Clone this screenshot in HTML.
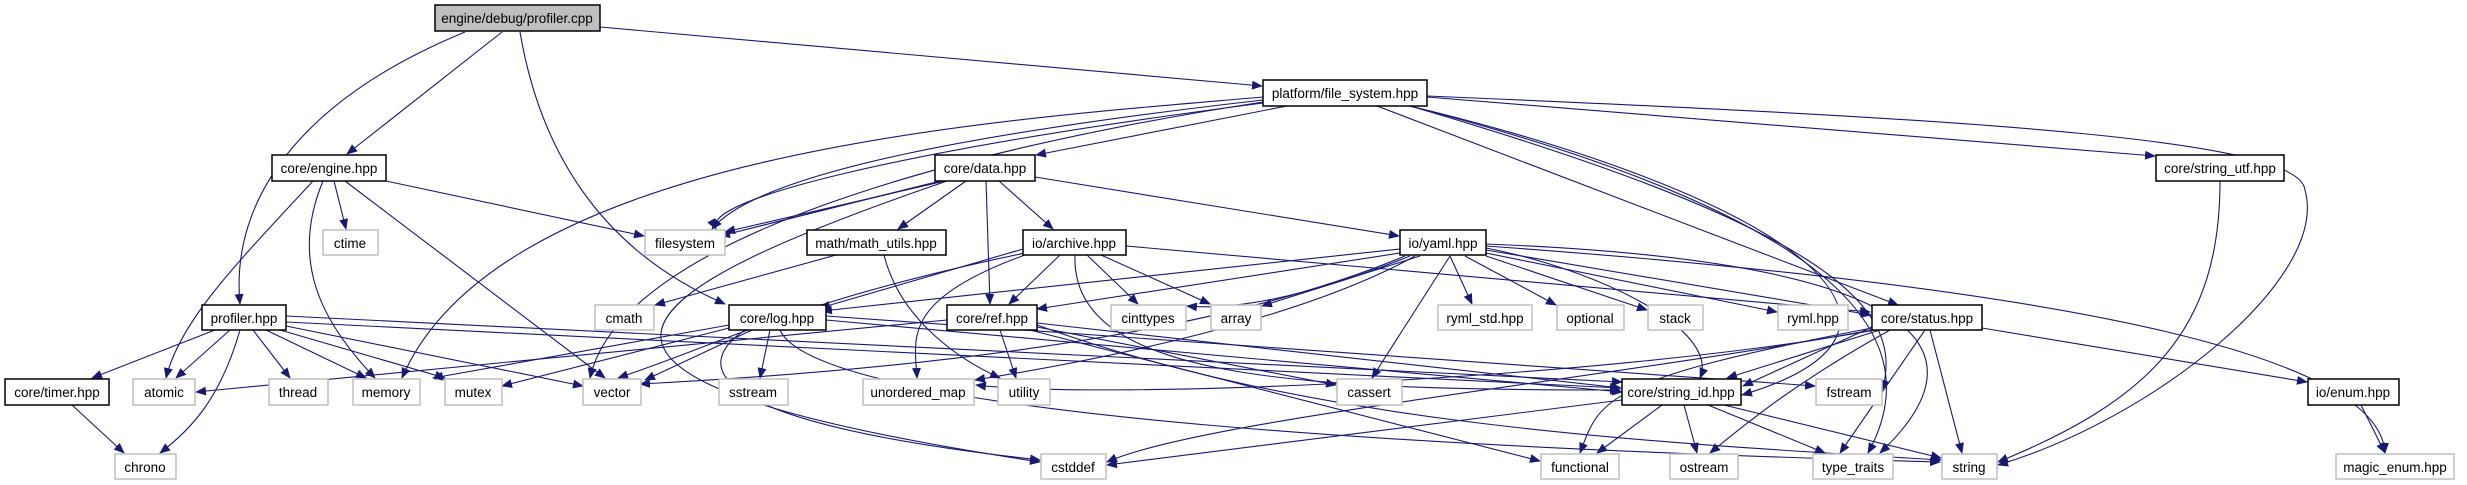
<!DOCTYPE html>
<html><head><meta charset="utf-8"><style>
html,body{margin:0;padding:0;background:#fff;}
svg{display:block;}
text{font-family:"Liberation Sans",sans-serif;font-size:13.5px;fill:#000;text-anchor:middle;}
.n{fill:#fff;stroke:#000;stroke-width:1.5;}
.s{fill:#fff;stroke:#bfbfbf;stroke-width:1.5;}
.e{fill:none;stroke:#191970;stroke-width:1.1;marker-end:url(#a);}
</style></head><body>
<svg width="2467" height="485" viewBox="0 0 2467 485" xmlns="http://www.w3.org/2000/svg">
<defs><marker id="a" markerWidth="11" markerHeight="9" refX="10" refY="4.5" orient="auto" markerUnits="userSpaceOnUse"><polygon points="0,0 11,4.5 0,9" fill="#191970"/></marker></defs>
<g>
<!-- root -->
<path class="e" d="M465,32 C300,100 230,200 240,304"/>
<path class="e" d="M502,32 L347,154"/>
<path class="e" d="M520,32 C540,150 600,250 725,304"/>
<path class="e" d="M600,27 L1262,86"/>
<!-- engine -->
<path class="e" d="M313,181 C240,260 180,320 166,378"/>
<path class="e" d="M323,181 C290,260 320,320 375,378"/>
<path class="e" d="M334,181 L346,229"/>
<path class="e" d="M345,181 L605,378"/>
<path class="e" d="M386,181 L644,236"/>
<!-- profiler.hpp -->
<path class="e" d="M215,330 L92,378"/>
<path class="e" d="M230,330 L176,378"/>
<path class="e" d="M240,330 C220,400 190,430 160,453"/>
<path class="e" d="M253,330 L290,378"/>
<path class="e" d="M266,330 L366,378"/>
<path class="e" d="M280,330 L445,378"/>
<path class="e" d="M286,326 L583,386"/>
<path class="e" d="M286,322 L1620,388"/>
<path class="e" d="M286,316 L1622,382"/>
<!-- timer -->
<path class="e" d="M72,405 L124,453"/>
<!-- log -->
<path class="e" d="M729,325 L433,378"/>
<path class="e" d="M729,328 L502,386"/>
<path class="e" d="M752,330 L645,380"/>
<path class="e" d="M770,330 L760,378"/>
<path class="e" d="M745,330 C700,360 680,420 1040,460"/>
<path class="e" d="M780,330 C820,420 1500,450 1940,462"/>
<path class="e" d="M826,320 L1622,392"/>
<path class="e" d="M826,316 L1815,386"/>
<!-- platform -->
<path class="e" d="M1263,97 C1000,120 500,150 402,378"/>
<path class="e" d="M1263,100 C1000,130 760,170 712,229"/>
<path class="e" d="M1263,103 C900,150 700,200 716,229"/>
<path class="e" d="M1263,102 C950,150 620,240 590,378"/>
<path class="e" d="M1287,106 L1036,155"/>
<path class="e" d="M1427,97 L2155,156"/>
<path class="e" d="M1427,96 C2000,120 2300,140 2305,190 C2330,280 2150,420 1998,465"/>
<path class="e" d="M1377,106 L1898,305"/>
<path class="e" d="M1410,106 C1800,220 1910,300 1882,390"/>
<path class="e" d="M1410,106 C1800,200 1960,330 1742,395"/>
<path class="e" d="M1410,106 C1850,220 1930,340 1868,453"/>
<!-- data -->
<path class="e" d="M940,181 L720,236"/>
<path class="e" d="M945,181 L725,232"/>
<path class="e" d="M947,181 C600,300 500,380 1040,462"/>
<path class="e" d="M966,181 L898,229"/>
<path class="e" d="M986,181 L990,304"/>
<path class="e" d="M999,181 L1053,229"/>
<path class="e" d="M1035,177 L1399,236"/>
<!-- math -->
<path class="e" d="M836,255 L655,305"/>
<path class="e" d="M884,255 C900,320 960,360 1000,378"/>
<!-- archive -->
<path class="e" d="M1023,249 L820,308"/>
<path class="e" d="M1025,253 C800,300 730,340 618,378"/>
<path class="e" d="M1025,255 C900,300 915,340 917,378"/>
<path class="e" d="M1060,255 L1009,304"/>
<path class="e" d="M1087,255 L1138,304"/>
<path class="e" d="M1101,255 L1210,304"/>
<path class="e" d="M1126,246 L1870,312"/>
<path class="e" d="M1075,255 C1070,380 1300,390 1620,390"/>
<!-- yaml -->
<path class="e" d="M1400,249 L822,311"/>
<path class="e" d="M1400,253 L1037,309"/>
<path class="e" d="M1405,256 C1300,300 1100,360 640,384"/>
<path class="e" d="M1415,256 C1300,320 1100,360 975,380"/>
<path class="e" d="M1420,256 L1262,306"/>
<path class="e" d="M1410,256 C1300,300 1230,310 1187,306"/>
<path class="e" d="M1450,256 L1372,378"/>
<path class="e" d="M1450,256 L1472,304"/>
<path class="e" d="M1465,256 L1556,305"/>
<path class="e" d="M1486,256 L1647,310"/>
<path class="e" d="M1486,253 L1777,312"/>
<path class="e" d="M1486,250 L1871,315"/>
<path class="e" d="M1486,248 C1600,270 1720,330 1700,378"/>
<path class="e" d="M1486,246 C2100,290 2380,360 2385,453"/>
<path class="e" d="M1486,244 C1900,260 2000,340 1880,453"/>
<!-- ref -->
<path class="e" d="M947,320 L196,392"/>
<path class="e" d="M1000,330 L1016,378"/>
<path class="e" d="M1037,327 L1336,385"/>
<path class="e" d="M1030,330 L1540,461"/>
<path class="e" d="M1037,323 L1621,388"/>
<path class="e" d="M1037,325 C1300,420 1600,440 1941,460"/>
<!-- status -->
<path class="e" d="M1872,327 L1743,386"/>
<path class="e" d="M1880,330 L1727,378"/>
<path class="e" d="M1872,330 C1600,380 1200,420 1107,462"/>
<path class="e" d="M1872,328 C1600,380 1600,400 1580,453"/>
<path class="e" d="M1890,330 C1800,380 1750,420 1710,453"/>
<path class="e" d="M1925,330 L1840,453"/>
<path class="e" d="M1930,330 L1962,453"/>
<path class="e" d="M1982,328 L2307,382"/>
<path class="e" d="M1875,330 C1600,380 1100,400 976,385"/>
<!-- string_id -->
<path class="e" d="M1622,400 L1107,465"/>
<path class="e" d="M1662,405 L1597,453"/>
<path class="e" d="M1684,405 L1697,453"/>
<path class="e" d="M1708,405 L1825,453"/>
<path class="e" d="M1724,405 L1941,458"/>
<!-- utf / enum -->
<path class="e" d="M2220,181 C2220,330 2150,400 1998,462"/>
<path class="e" d="M2361,405 L2385,453"/>
</g>
<g>
<rect x="435" y="5" width="165" height="26" fill="#bfbfbf" stroke="#000" stroke-width="1.5"/><text x="517" y="23">engine/debug/profiler.cpp</text>
<rect class="n" x="272" y="155" width="114" height="26"/><text x="329" y="173">core/engine.hpp</text>
<rect class="s" x="323" y="230" width="55" height="25"/><text x="350" y="248">ctime</text>
<rect class="s" x="645" y="230" width="80" height="25"/><text x="685" y="248">filesystem</text>
<rect class="n" x="202" y="305" width="84" height="25"/><text x="244" y="323">profiler.hpp</text>
<rect class="n" x="5" y="379" width="104" height="26"/><text x="57" y="397">core/timer.hpp</text>
<rect class="s" x="133" y="379" width="62" height="26"/><text x="164" y="397">atomic</text>
<rect class="s" x="269" y="379" width="59" height="26"/><text x="298" y="397">thread</text>
<rect class="s" x="353" y="379" width="67" height="26"/><text x="386" y="397">memory</text>
<rect class="s" x="445" y="379" width="57" height="26"/><text x="473" y="397">mutex</text>
<rect class="s" x="583" y="379" width="58" height="26"/><text x="612" y="397">vector</text>
<rect class="s" x="719" y="379" width="69" height="26"/><text x="753" y="397">sstream</text>
<rect class="s" x="115" y="454" width="61" height="25"/><text x="145" y="472">chrono</text>
<rect class="s" x="595" y="305" width="59" height="25"/><text x="624" y="323">cmath</text>
<rect class="n" x="729" y="305" width="97" height="25"/><text x="777" y="323">core/log.hpp</text>
<rect class="n" x="1263" y="80" width="164" height="26"/><text x="1345" y="98">platform/file_system.hpp</text>
<rect class="n" x="935" y="155" width="100" height="26"/><text x="985" y="173">core/data.hpp</text>
<rect class="n" x="807" y="230" width="139" height="25"/><text x="876" y="248">math/math_utils.hpp</text>
<rect class="n" x="1023" y="230" width="103" height="25"/><text x="1074" y="248">io/archive.hpp</text>
<rect class="n" x="1400" y="230" width="86" height="25"/><text x="1443" y="248">io/yaml.hpp</text>
<rect class="n" x="947" y="305" width="90" height="25"/><text x="992" y="323">core/ref.hpp</text>
<rect class="s" x="1111" y="305" width="75" height="25"/><text x="1148" y="323">cinttypes</text>
<rect class="s" x="1211" y="305" width="50" height="25"/><text x="1236" y="323">array</text>
<rect class="s" x="1438" y="305" width="94" height="25"/><text x="1485" y="323">ryml_std.hpp</text>
<rect class="s" x="1557" y="305" width="67" height="25"/><text x="1590" y="323">optional</text>
<rect class="s" x="1648" y="305" width="55" height="25"/><text x="1675" y="323">stack</text>
<rect class="s" x="1778" y="305" width="70" height="25"/><text x="1813" y="323">ryml.hpp</text>
<rect class="n" x="1872" y="305" width="110" height="25"/><text x="1927" y="323">core/status.hpp</text>
<rect class="n" x="2156" y="155" width="128" height="26"/><text x="2220" y="173">core/string_utf.hpp</text>
<rect class="s" x="863" y="379" width="111" height="26"/><text x="918" y="397">unordered_map</text>
<rect class="s" x="998" y="379" width="52" height="26"/><text x="1024" y="397">utility</text>
<rect class="s" x="1337" y="379" width="65" height="26"/><text x="1369" y="397">cassert</text>
<rect class="n" x="1622" y="379" width="119" height="26"/><text x="1681" y="397">core/string_id.hpp</text>
<rect class="s" x="1816" y="379" width="66" height="26"/><text x="1849" y="397">fstream</text>
<rect class="n" x="2308" y="379" width="91" height="26"/><text x="2353" y="397">io/enum.hpp</text>
<rect class="s" x="1041" y="454" width="65" height="25"/><text x="1073" y="472">cstddef</text>
<rect class="s" x="1541" y="454" width="78" height="25"/><text x="1580" y="472">functional</text>
<rect class="s" x="1670" y="454" width="68" height="25"/><text x="1704" y="472">ostream</text>
<rect class="s" x="1813" y="454" width="80" height="25"/><text x="1853" y="472">type_traits</text>
<rect class="s" x="1942" y="454" width="55" height="25"/><text x="1969" y="472">string</text>
<rect class="s" x="2336" y="454" width="118" height="25"/><text x="2395" y="472">magic_enum.hpp</text>
</g>
</svg>
</body></html>
